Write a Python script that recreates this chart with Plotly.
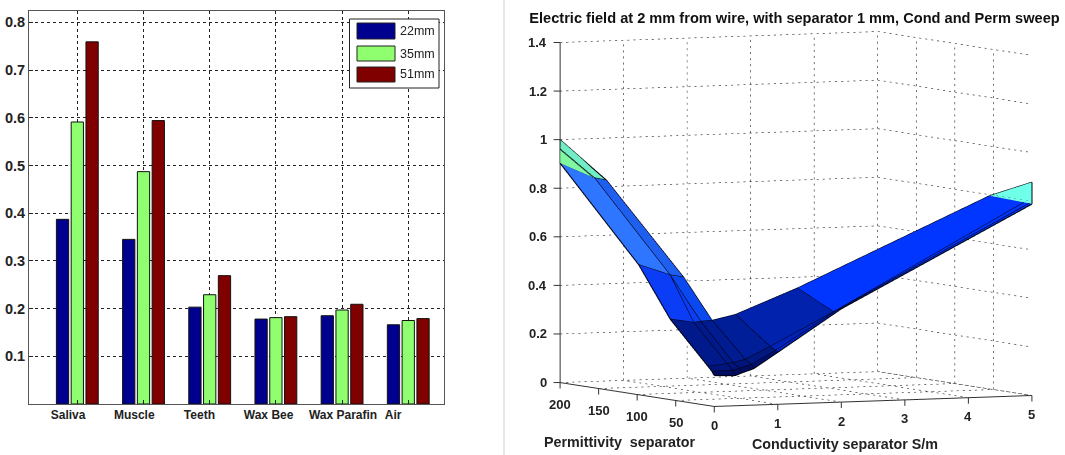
import plotly.graph_objects as go

W, H = 1065, 455

# ---------- left chart data ----------
categories = ["Saliva", "Muscle", "Teeth", "Wax Bee", "Wax Parafin", "Air"]
series_names = ["22mm", "35mm", "51mm"]
values_22mm = [0.387, 0.345, 0.203, 0.178, 0.185, 0.166]
values_35mm = [0.591, 0.487, 0.229, 0.181, 0.197, 0.175]
values_51mm = [0.759, 0.594, 0.269, 0.183, 0.209, 0.179]
y_ticks = [0.1, 0.2, 0.3, 0.4, 0.5, 0.6, 0.7, 0.8]
label_offsets = [-0.14, -0.14, -0.155, -0.11, 0.015, -0.23]
bar_colors = ["#00008F", "#8FFF70", "#800000"]

# ---------- right chart data: mesh rows (front-most last), None = no vertex ----------
mesh_cond = [
    [0, 0, 0, 0, None, None, None, None],
    [0, 0.43, 0.43, 0.62, None, None, None, None],
    [0, 0.43, 0.43, 0.62, None, None, None, None],
    [0, 0.33, 0.43, 0.62, 1, 2, 5, 5],
    [0, 0.33, 0.43, 0.62, 1, 2, 5, 5],
    [0, 0.33, 0.43, 0.62, 1, 2, 5, None],
    [0, 0.33, 0.43, 0.62, 1, 2, 5, None],
]
mesh_perm = [
    [200, 200, 200, 200, None, None, None, None],
    [200, 191, 191, 191, None, None, None, None],
    [98, 93, 93, 91, None, None, None, None],
    [57, 54, 53, 54, 55, 57, 55, 0],
    [8, 11, 11, 11, 10, 10, 10, 0],
    [3, 3, 3, 3, 3, 3, 3, None],
    [0, 0, 0, 0, 0, 0, 0, None],
]
mesh_z = [
    [0.903, 0.903, 0.961, 1.0, None, None, None, None],
    [0.903, 0.843, 0.843, 0.832, None, None, None, None],
    [0.535, 0.492, 0.492, 0.482, None, None, None, None],
    [0.331, 0.316, 0.320, 0.322, 0.342, 0.441, 0.795, 0.878],
    [0.161, 0.167, 0.171, 0.182, 0.232, 0.366, 0.790, 0.788],
    [0.143, 0.144, 0.151, 0.165, 0.219, 0.381, 0.790, None],
    [0.127, 0.124, 0.134, 0.150, 0.214, 0.384, 0.788, None],
]
# colour of each mesh cell
cell_colors = [
    ["#80F8A0", "#80F8A0", "#72EEC4", None, None, None, None],
    ["#2E76FF", "#2E76FF", "#1F5FF0", None, None, None, None],
    ["#0A3DF5", "#0A3DF5", "#0A49F0", None, None, None, None],
    ["#001A8C", "#001A8C", "#001C90", "#001E98", "#0022AC", "#0036FF", "#70FFE8"],
    ["#00147C", "#00147C", "#00147C", "#00187F", "#0022B8", "#0036FF", None],
    ["#000C60", "#000C60", "#000C60", "#001070", "#0026D0", "#0036FF", None],
]
cond_ticks = [0, 1, 2, 3, 4, 5]
perm_ticks = [0, 50, 100, 150, 200]
z_ticks = [0, 0.2, 0.4, 0.6, 0.8, 1, 1.2, 1.4]
z_tick_text = ["0", "0.2", "0.4", "0.6", "0.8", "1", "1.2", "1.4"]
title_text = "Electric field at 2 mm from wire, with separator 1 mm, Cond and Perm sweep"
cond_title = "Conductivity separator S/m"
perm_title = "Permittivity  separator"

FONT = "Liberation Sans, Arial, sans-serif"
EYE = 4.0
SCALE = 1.557
fig = go.Figure()

# ---------- left: bars ----------
for name, vals, col in zip(series_names, [values_22mm, values_35mm, values_51mm], bar_colors):
    fig.add_trace(go.Bar(x=list(range(len(categories))), y=vals, name=name, marker_color=col,
                         marker_line=dict(color="#111", width=1), showlegend=False))
# carrier of the category labels on the overlaid x axis
fig.add_trace(go.Scatter(x=[i + o for i, o in enumerate(label_offsets)], y=[0] * len(categories),
                         xaxis="x2", yaxis="y", mode="markers", marker=dict(opacity=0, size=1),
                         hoverinfo="skip", showlegend=False))

# ---------- right: mesh ----------
vx, vy, vz, fi, fj, fk, fc = [], [], [], [], [], [], []
nrows, ncols = len(mesh_z), len(mesh_z[0])
index = {}
for r in range(nrows):
    for c in range(ncols):
        if mesh_z[r][c] is not None:
            index[(r, c)] = len(vx)
            vx.append(mesh_cond[r][c]); vy.append(mesh_perm[r][c]); vz.append(mesh_z[r][c])
for r in range(nrows - 1):
    for c in range(ncols - 1):
        col = cell_colors[r][c]
        if col is None:
            continue
        corners = [(r, c), (r, c + 1), (r + 1, c + 1), (r + 1, c)]
        ids = [index[p] for p in corners if p in index]
        for t in range(1, len(ids) - 1):
            fi.append(ids[0]); fj.append(ids[t]); fk.append(ids[t + 1]); fc.append(col)
fig.add_trace(go.Mesh3d(x=vx, y=vy, z=vz, i=fi, j=fj, k=fk, facecolor=fc, flatshading=True,
                        lighting=dict(ambient=1, diffuse=0, specular=0, fresnel=0),
                        hoverinfo="skip", scene="scene", showscale=False))

# mesh edges
ex, ey, ez = [], [], []
def edge(p, q):
    if p in index and q in index:
        for v in (p, q):
            ex.append(mesh_cond[v[0]][v[1]]); ey.append(mesh_perm[v[0]][v[1]]); ez.append(mesh_z[v[0]][v[1]])
        ex.append(None); ey.append(None); ez.append(None)
for r in range(nrows):
    for c in range(ncols):
        edge((r, c), (r, c + 1))
        edge((r, c), (r + 1, c))
fig.add_trace(go.Scatter3d(x=ex, y=ey, z=ez, mode="lines", line=dict(color="#000010", width=2.2),
                           hoverinfo="skip", showlegend=False, scene="scene"))

# dotted walls and floor: each grid line is cut into short dots
gx, gy, gz = [], [], []
def dotted(a, b, n):
    for k in range(n):
        t0 = k / n
        t1 = (k + 0.35) / n
        for t in (t0, t1):
            gx.append(a[0] + (b[0] - a[0]) * t)
            gy.append(a[1] + (b[1] - a[1]) * t)
            gz.append(a[2] + (b[2] - a[2]) * t)
        gx.append(None); gy.append(None); gz.append(None)
cmax, pmax, zmax = cond_ticks[-1], perm_ticks[-1], z_ticks[-1]
NC, NP, NZ = 52, 26, 56
for zt in z_ticks:
    dotted((0, pmax, zt), (cmax, pmax, zt), NC)
    dotted((cmax, pmax, zt), (cmax, 0, zt), NP)
for ct in cond_ticks[1:]:
    dotted((ct, pmax, 0), (ct, pmax, zmax), NZ)
    dotted((ct, 0, 0), (ct, pmax, 0), NP)
for pt in perm_ticks[1:-1]:
    dotted((cmax, pt, 0), (cmax, pt, zmax), NZ)
for pt in perm_ticks[:-1]:
    dotted((0, pt, 0), (cmax, pt, 0), NC)
fig.add_trace(go.Scatter3d(x=gx, y=gy, z=gz, mode="lines",
                           line=dict(color="#222", width=1.2),
                           hoverinfo="skip", showlegend=False, scene="scene"))

# ---------- layout ----------
axis3d = dict(showbackground=False, showgrid=False, zeroline=False, showspikes=False,
              showline=True, linecolor="#333", linewidth=2, ticks="", showticklabels=False,
              title=dict(text=""))
shapes = [dict(type="line", xref="paper", yref="paper", x0=504 / W, x1=504 / W, y0=0, y1=1,
               line=dict(color="#cfcfcf", width=1))]
annotations = []
# legend box
shapes.append(dict(type="rect", xref="paper", yref="paper", x0=349.5 / W, x1=439 / W,
                   y0=1 - 88 / H, y1=1 - 19 / H, fillcolor="white", line=dict(color="#222", width=1)))
for name, col, (top, bot) in zip(series_names, bar_colors, [(23, 39), (46, 61), (67, 82)]):
    shapes.append(dict(type="rect", xref="paper", yref="paper", x0=357 / W, x1=395 / W,
                       y0=1 - bot / H, y1=1 - top / H, fillcolor=col, line=dict(color="#222", width=1)))
    annotations.append(dict(text=name, xref="paper", yref="paper", x=398 / W, y=1 - (top + bot) / 2 / H,
                            xanchor="left", yanchor="middle", showarrow=False,
                            font=dict(family=FONT, size=12.5, color="#222")))
for txt, x, y in [(perm_title, 619, 442), (cond_title, 845, 444)]:
    annotations.append(dict(text=txt, xref="paper", yref="paper", x=x / W, y=1 - y / H,
                            xanchor="center", yanchor="middle", showarrow=False,
                            font=dict(family=FONT, size=14.3, color="#222", weight=700)))

tick_font = dict(family=FONT, size=13, color="#222", weight=700)
scene_notes = []
def tick_mark(x, y, z, ax, ay):
    return dict(x=x, y=y, z=z, text=" ", showarrow=True, arrowhead=0, arrowwidth=1, arrowcolor="#333",
                ax=ax, ay=ay, font=dict(size=1), borderpad=0)
for ct in cond_ticks:
    scene_notes.append(dict(x=ct, y=0, z=0, text=str(ct), showarrow=False, yshift=-19, font=tick_font))
    scene_notes.append(tick_mark(ct, 0, 0, 0, 7))
for pt in perm_ticks[1:]:
    scene_notes.append(dict(x=0, y=pt, z=0, text=str(pt), showarrow=False, yshift=-22, font=tick_font))
    scene_notes.append(tick_mark(0, pt, 0, 0, 7))
for zt, lab in zip(z_ticks, z_tick_text):
    scene_notes.append(dict(x=0, y=pmax, z=zt, text=lab, showarrow=False, xanchor="right", xshift=-11,
                            font=tick_font))
    scene_notes.append(tick_mark(0, pmax, zt, -7, 0))

grid_common = dict(showgrid=True, gridcolor="#222", griddash="3px,3px", gridwidth=1)
fig.update_layout(
    width=W, height=H, autosize=False, margin=dict(l=0, r=0, t=0, b=0),
    paper_bgcolor="white", plot_bgcolor="white", showlegend=False,
    barmode="group", bargap=0.33, bargroupgap=0.17,
    title=dict(text=title_text, x=794.5 / W, y=1 - 18 / H, xanchor="center", yanchor="middle",
               font=dict(family=FONT, size=14.6, color="#111", weight=700)),
    xaxis=dict(domain=[29 / W, 444 / W], range=[-0.73, 5.54], tickmode="array",
               tickvals=list(range(len(categories))), ticktext=[""] * len(categories),
               ticks="inside", ticklen=4, tickcolor="#222", showline=True, linecolor="#555", linewidth=1,
               mirror=True, zeroline=False, **grid_common),
    xaxis2=dict(overlaying="x", anchor="y", side="bottom", range=[-0.73, 5.54], tickmode="array",
                tickvals=[i + o for i, o in enumerate(label_offsets)], ticktext=categories,
                ticks="", showgrid=False, zeroline=False, ticklabelstandoff=2,
                tickfont=dict(family=FONT, size=12, color="#222", weight=700)),
    yaxis=dict(domain=[1 - 404 / H, 1 - 10.5 / H], range=[0, 0.8247], tickmode="array",
               tickvals=y_ticks, ticktext=[f"{v:.1f}" for v in y_ticks],
               ticks="inside", ticklen=4, tickcolor="#222", showline=True, linecolor="#555", linewidth=1,
               mirror=True, zeroline=False, tickfont=dict(family=FONT, size=14.5, color="#222", weight=700),
               **grid_common),
    scene=dict(
        domain=dict(x=[527 / W, 1], y=[1 - 438 / H, 1]),
        aspectmode="manual", aspectratio=dict(x=1.03 * SCALE, y=1.06 * SCALE, z=SCALE),
        camera=dict(projection=dict(type="orthographic"), up=dict(x=0, y=0, z=1),
                    center=dict(x=0, y=0, z=0), eye=dict(x=-0.4254 * EYE, y=-0.902 * EYE, z=0.0731 * EYE)),
        xaxis=dict(axis3d, range=[0, cmax], tickmode="array", tickvals=cond_ticks),
        yaxis=dict(axis3d, range=[0, pmax], tickmode="array", tickvals=perm_ticks),
        zaxis=dict(axis3d, range=[0, zmax], tickmode="array", tickvals=z_ticks),
        annotations=scene_notes,
    ),
    shapes=shapes, annotations=annotations,
)

fig.write_html("out.html", include_plotlyjs=True, config=dict(displayModeBar=False),
               post_script="document.body.style.margin='0';document.body.style.overflow='hidden';")
